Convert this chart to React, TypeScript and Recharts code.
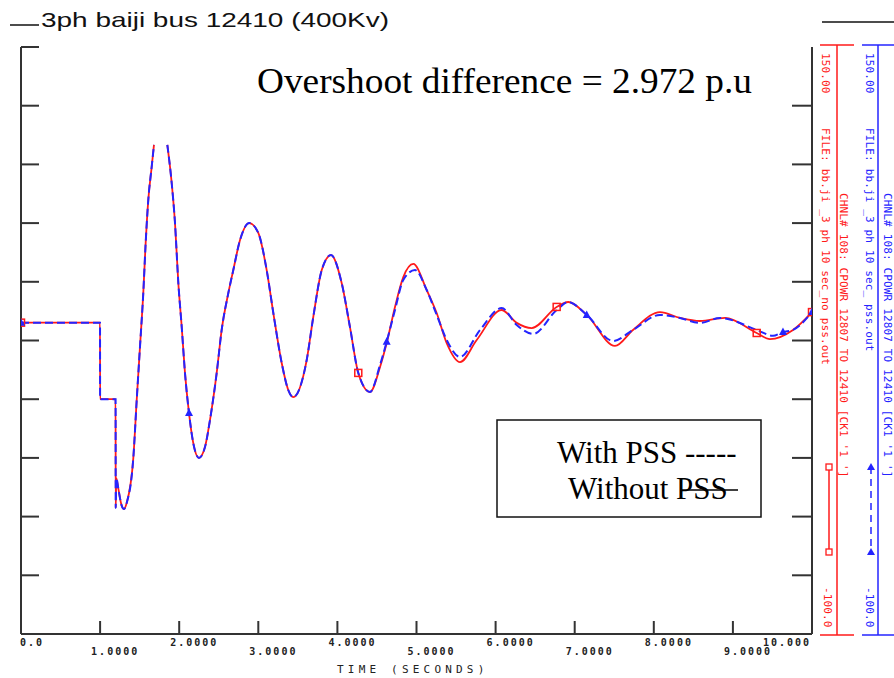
import React from 'react';
import { LineChart, Line, XAxis, YAxis } from 'recharts';

// ---- data (time in seconds, value in plot units -100..150) ----
const sharedTime = [
  0, 0.999, 1.0, 1.196, 1.197, 1.205, 1.23, 1.27, 1.302, 1.336, 1.42, 1.463, 1.504, 1.546,
  1.576, 1.609, 1.652, 1.681, 1.76, 1.85, 1.905, 1.947, 1.989, 2.032, 2.073, 2.124, 2.178,
  2.25, 2.326, 2.389, 2.474, 2.537, 2.621, 2.684, 2.769, 2.886, 3.0, 3.106, 3.19, 3.296,
  3.379, 3.442, 3.612, 3.695, 3.802, 3.919, 4.054, 4.159, 4.264, 4.412,
];
const sharedValue: (number | null)[] = [
  32.6, 32.6, 0, 0, -46.3, -33.6, -38, -45, -46.8, -44.2, -25.0, -0.3, 22.2, 45.2,
  66.5, 84.8, 98.9, 108.3, null, 108.3, 92.1, 75.0, 49.5, 30.7, 11.2, -5.9, -18.7,
  -25.0, -20.4, -8.9, 11.2, 29.5, 45.2, 55.0, 67.8, 75.0, 70.8, 55.0, 36.7, 15.4,
  3.9, 0.9, 16.7, 35.0, 55.0, 61.4, 49.5, 30.7, 11.2, 3.1,
];
const withoutPssTime = [
  4.539, 4.623, 4.728, 4.833, 4.96, 5.129, 5.255, 5.382, 5.55, 5.761, 6.077, 6.267, 6.456,
  6.772, 6.919, 7.152, 7.509, 7.737, 8.078, 8.331, 8.584, 8.9, 9.301, 9.469, 9.76, 10,
];
const withoutPssValue = [
  13.7, 23.9, 39.3, 52.0, 57.6, 46.5, 36.7, 23.9, 15.8, 25.2, 38.0, 32.5, 30.3,
  39.3, 41.4, 35.9, 22.7, 29.5, 37.1, 34.6, 33.3, 34.6, 28.2, 25.6, 29.5, 37.1,
];
const withPssTime = [
  4.539, 4.623, 4.728, 4.833, 4.981, 5.129, 5.255, 5.382, 5.55, 5.803, 6.077, 6.267, 6.477,
  6.772, 6.919, 7.152, 7.484, 7.737, 8.078, 8.331, 8.584, 8.837, 9.301, 9.507, 9.633, 9.76, 10,
];
const withPssValue = [
  14.6, 24.5, 38.0, 50.8, 55.0, 46.5, 35.9, 25.2, 18.0, 29.5, 38.8, 31.6, 27.8,
  38.0, 41.4, 35.9, 24.8, 29.5, 35.9, 34.6, 32.5, 34.6, 29.5, 27.0, 28.6, 29.5, 37.1,
];
const withoutPssMarkers = [0, 4.264, 6.772, 9.301, 10];
const withPssMarkers = [0, 2.124, 4.623, 7.152, 9.633, 10];

const xTicks = [0, 1, 2, 3, 4, 5, 6, 7, 8, 9, 10];
const xTickLabels = ['0.0', '1.0000', '2.0000', '3.0000', '4.0000', '5.0000', '6.0000', '7.0000', '8.0000', '9.0000', '10.000'];
const yTicks = [-100, -75, -50, -25, 0, 25, 50, 75, 100, 125, 150];
const yTicksRight = [-75, -50, -25, 0, 25, 50, 75, 100, 125];

const RED = '#ff1a1a';
const BLUE = '#2424ff';
const AXIS = '#333';

const build = (t: number[], v: (number | null)[]) => t.map((tt, i) => ({ t: tt, v: v[i] }));
const redData = build([...sharedTime, ...withoutPssTime], [...sharedValue, ...withoutPssValue]);
const blueData = build([...sharedTime, ...withPssTime], [...sharedValue, ...withPssValue]);

const makeDot = (marks: number[], kind: 'square' | 'tri', color: string) => (props: any) => {
  const { cx, cy, payload, index } = props;
  const key = `${kind}-${index}`;
  if (cx == null || cy == null || payload == null || payload.v == null || !marks.some((m) => Math.abs(m - payload.t) < 1e-6)) {
    return <g key={key} />;
  }
  if (kind === 'square') {
    return <rect key={key} x={cx - 3.5} y={cy - 3.5} width={7} height={7} fill="none" stroke={color} strokeWidth={1.5} />;
  }
  return <path key={key} d={`M${cx},${cy - 4.5}L${cx + 4},${cy + 3}L${cx - 4},${cy + 3}Z`} fill={color} />;
};

const pixelFont = '"DejaVu Sans Mono", "Liberation Mono", monospace';

const XTick = (props: any) => {
  const { x, y, payload } = props;
  const i = xTicks.indexOf(payload.value);
  const label = xTickLabels[i] ?? '';
  const first = i === 0;
  const last = i === xTicks.length - 1;
  const odd = i % 2 === 1;
  return (
    <g>
      {!first && !last && <line x1={x} x2={x} y1={y} y2={y - 13} stroke={AXIS} strokeWidth={2} />}
      <text
        x={first ? x - 1 : last ? x - 1 : x - 9}
        y={y + (odd ? 21 : 12)}
        textAnchor={last ? 'end' : 'start'}
        fontFamily={pixelFont}
        fontSize={10}
        fontWeight={700}
        letterSpacing={2}
        fill="#222"
      >
        {label}
      </text>
    </g>
  );
};

const YTick = (props: any) => {
  const { x, y, dir, len } = props;
  return <line x1={x} x2={x + dir * len} y1={y} y2={y} stroke={AXIS} strokeWidth={2} />;
};

const Rot = ({ x, y, color, children }: { x: number; y: number; color: string; children: string }) => (
  <text
    transform={`translate(${x},${y}) rotate(90)`}
    fontFamily={pixelFont}
    fontSize={11}
    letterSpacing={0.15}
    fill={color}
    dominantBaseline="central"
  >
    {children}
  </text>
);

export default function App() {
  return (
    <div style={{ position: 'absolute', left: 0, top: 0, width: 894, height: 678, background: '#fff' }}>
      <LineChart width={894} height={678} margin={{ top: 47, right: 82, bottom: 14, left: 21 }}>
        <XAxis
          dataKey="t"
          type="number"
          domain={[0, 10]}
          ticks={xTicks}
          interval={0}
          allowDataOverflow
          height={30}
          tickSize={0}
          tickMargin={0}
          tickLine={false}
          axisLine={{ stroke: AXIS, strokeWidth: 2 }}
          tick={<XTick />}
        />
        <YAxis
          yAxisId="l"
          orientation="left"
          mirror
          type="number"
          domain={[-100, 150]}
          allowDataOverflow
          ticks={yTicks}
          interval={0}
          tick={<YTick dir={1} len={18} />}
          tickSize={0}
          tickMargin={0}
          tickLine={false}
          axisLine={{ stroke: AXIS, strokeWidth: 2 }}
        />
        <YAxis
          yAxisId="r"
          orientation="right"
          mirror
          type="number"
          domain={[-100, 150]}
          allowDataOverflow
          ticks={yTicksRight}
          interval={0}
          tick={<YTick dir={-1} len={20} />}
          tickSize={0}
          tickMargin={0}
          tickLine={false}
          axisLine={{ stroke: AXIS, strokeWidth: 2 }}
        />
        <Line
          yAxisId="l"
          data={redData}
          dataKey="v"
          type="monotone"
          stroke={RED}
          strokeWidth={1.8}
          dot={makeDot(withoutPssMarkers, 'square', RED)}
          activeDot={false}
          connectNulls={false}
          isAnimationActive={false}
        />
        <Line
          yAxisId="r"
          data={blueData}
          dataKey="v"
          type="monotone"
          stroke={BLUE}
          strokeWidth={2}
          strokeDasharray="8 4"
          dot={makeDot(withPssMarkers, 'tri', BLUE)}
          activeDot={false}
          connectNulls={false}
          isAnimationActive={false}
        />
      </LineChart>
      <svg width={894} height={678} style={{ position: 'absolute', left: 0, top: 0, pointerEvents: 'none' }}>
        {/* title */}
        <line x1={10} x2={39} y1={25} y2={25} stroke="#111" strokeWidth={1.5} />
        <text x={41} y={27} fontFamily='"Liberation Sans", Arial, sans-serif' fontSize={21} textLength={348} lengthAdjust="spacingAndGlyphs" fill="#111">
          3ph baiji bus 12410 (400Kv)
        </text>
        <line x1={822} x2={894} y1={22} y2={22} stroke="#111" strokeWidth={1.5} />
        {/* overshoot note */}
        <text x={257} y={93} fontFamily='"Liberation Serif", "Times New Roman", serif' fontSize={36} textLength={495} lengthAdjust="spacingAndGlyphs" fill="#000">
          Overshoot difference = 2.972 p.u
        </text>
        {/* legend box */}
        <rect x={497} y={420} width={264} height={97} fill="#fff" stroke="#111" strokeWidth={1.5} />
        <text x={557} y={463} fontFamily='"Liberation Serif", "Times New Roman", serif' fontSize={31} fill="#000">
          With PSS -----
        </text>
        <text x={568} y={499} fontFamily='"Liberation Serif", "Times New Roman", serif' fontSize={31} fill="#000">
          Without PSS
        </text>
        <line x1={681} x2={738} y1={490} y2={490} stroke="#000" strokeWidth={1.5} />
        {/* x axis title */}
        <text x={337} y={673} fontFamily={pixelFont} fontSize={11} letterSpacing={4.2} fill="#222">
          TIME (SECONDS)
        </text>
        {/* red channel axis */}
        <line x1={837} x2={837} y1={45} y2={635} stroke={RED} strokeWidth={1.5} />
        <line x1={820} x2={854} y1={45} y2={45} stroke={RED} strokeWidth={1.5} />
        <line x1={820} x2={854} y1={635} y2={635} stroke={RED} strokeWidth={1.5} />
        <Rot x={825} y={53} color={RED}>150.00</Rot>
        <Rot x={825} y={128} color={RED}>FILE: bb.ji _3 ph 10 sec_no pss.out</Rot>
        <Rot x={843} y={193} color={RED}>CHNL# 108: CPOWR 12807 TO 12410 [CK1 '1 ']</Rot>
        <Rot x={827} y={587} color={RED}>-100.0</Rot>
        <line x1={829} x2={829} y1={467} y2={552} stroke={RED} strokeWidth={1.5} />
        <rect x={826} y={464} width={6} height={6} fill="#fff" stroke={RED} strokeWidth={1.3} />
        <rect x={826} y={549} width={6} height={6} fill="#fff" stroke={RED} strokeWidth={1.3} />
        {/* blue channel axis */}
        <line x1={878} x2={878} y1={45} y2={635} stroke={BLUE} strokeWidth={1.5} />
        <line x1={862} x2={894} y1={45} y2={45} stroke={BLUE} strokeWidth={1.5} />
        <line x1={862} x2={894} y1={635} y2={635} stroke={BLUE} strokeWidth={1.5} />
        <Rot x={869} y={53} color={BLUE}>150.00</Rot>
        <Rot x={869} y={128} color={BLUE}>FILE: bb.ji _3 ph 10 sec_ pss.out</Rot>
        <Rot x={887} y={193} color={BLUE}>CHNL# 108: CPOWR 12807 TO 12410 [CK1 '1 ']</Rot>
        <Rot x={869} y={587} color={BLUE}>-100.0</Rot>
        <line x1={871} x2={871} y1={467} y2={552} stroke={BLUE} strokeWidth={1.5} strokeDasharray="7 5" />
        <path d="M871,463 L875,470 L867,470 Z" fill={BLUE} />
        <path d="M871,548 L875,555 L867,555 Z" fill={BLUE} />
      </svg>
    </div>
  );
}
